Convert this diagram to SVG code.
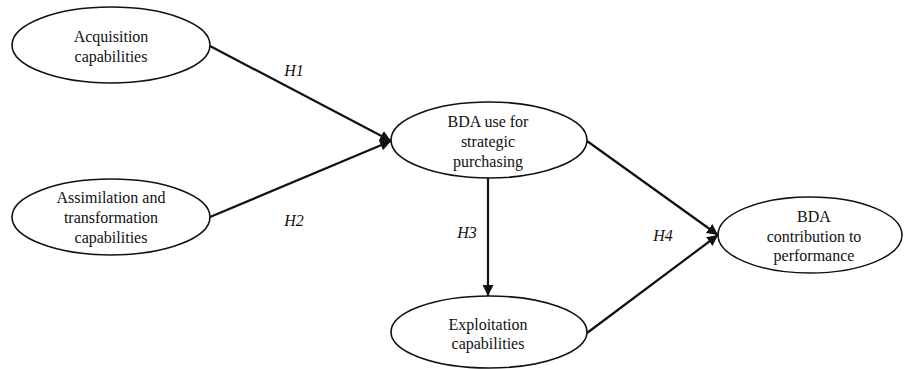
<svg xmlns="http://www.w3.org/2000/svg" width="908" height="369" viewBox="0 0 908 369">
<style>
text{font-family:'Liberation Serif','Times New Roman',serif;font-size:16px;fill:#111;text-anchor:middle}
.node ellipse{fill:#fff;stroke:#111;stroke-width:1.6}
.lbl{font-style:italic}
.edge{stroke:#111;stroke-width:2.2;fill:none}
</style>
<defs>
<marker id="ah" viewBox="0 0 10 10" refX="10" refY="5" markerWidth="5" markerHeight="5" orient="auto" markerUnits="strokeWidth">
<path d="M0,0 L10,5 L0,10 z" fill="#111"/>
</marker>
</defs>
<rect width="908" height="369" fill="#fff"/>
<g id="connectors">
<line class="edge" x1="210" y1="46" x2="391" y2="141" marker-end="url(#ah)"/>
<line class="edge" x1="210" y1="217" x2="391" y2="141" marker-end="url(#ah)"/>
<line class="edge" x1="488" y1="178" x2="488" y2="296" marker-end="url(#ah)"/>
<line class="edge" x1="587" y1="141" x2="718" y2="235" marker-end="url(#ah)"/>
<line class="edge" x1="587" y1="333" x2="718" y2="235" marker-end="url(#ah)"/>
<text class="lbl" x="294" y="76">H1</text>
<text class="lbl" x="294" y="226">H2</text>
<text class="lbl" x="467" y="238">H3</text>
<text class="lbl" x="663" y="241">H4</text>
</g>
<g id="acquisition" class="node">
<ellipse cx="111" cy="45" rx="99" ry="38"/>
<text x="111" y="42">Acquisition</text>
<text x="111" y="62">capabilities</text>
</g>
<g id="assimilation" class="node">
<ellipse cx="111" cy="217" rx="99" ry="38"/>
<text x="111" y="203">Assimilation and</text>
<text x="111" y="223">transformation</text>
<text x="111" y="243">capabilities</text>
</g>
<g id="bda-use" class="node">
<ellipse cx="489" cy="140" rx="98" ry="38"/>
<text x="488" y="127">BDA use for</text>
<text x="488" y="147">strategic</text>
<text x="488" y="167">purchasing</text>
</g>
<g id="exploitation" class="node">
<ellipse cx="489" cy="332" rx="98" ry="36"/>
<text x="488" y="330">Exploitation</text>
<text x="488" y="349">capabilities</text>
</g>
<g id="bda-contribution" class="node">
<ellipse cx="810" cy="235" rx="92" ry="38"/>
<text x="814" y="222">BDA</text>
<text x="814" y="242">contribution to</text>
<text x="814" y="261">performance</text>
</g>
</svg>
